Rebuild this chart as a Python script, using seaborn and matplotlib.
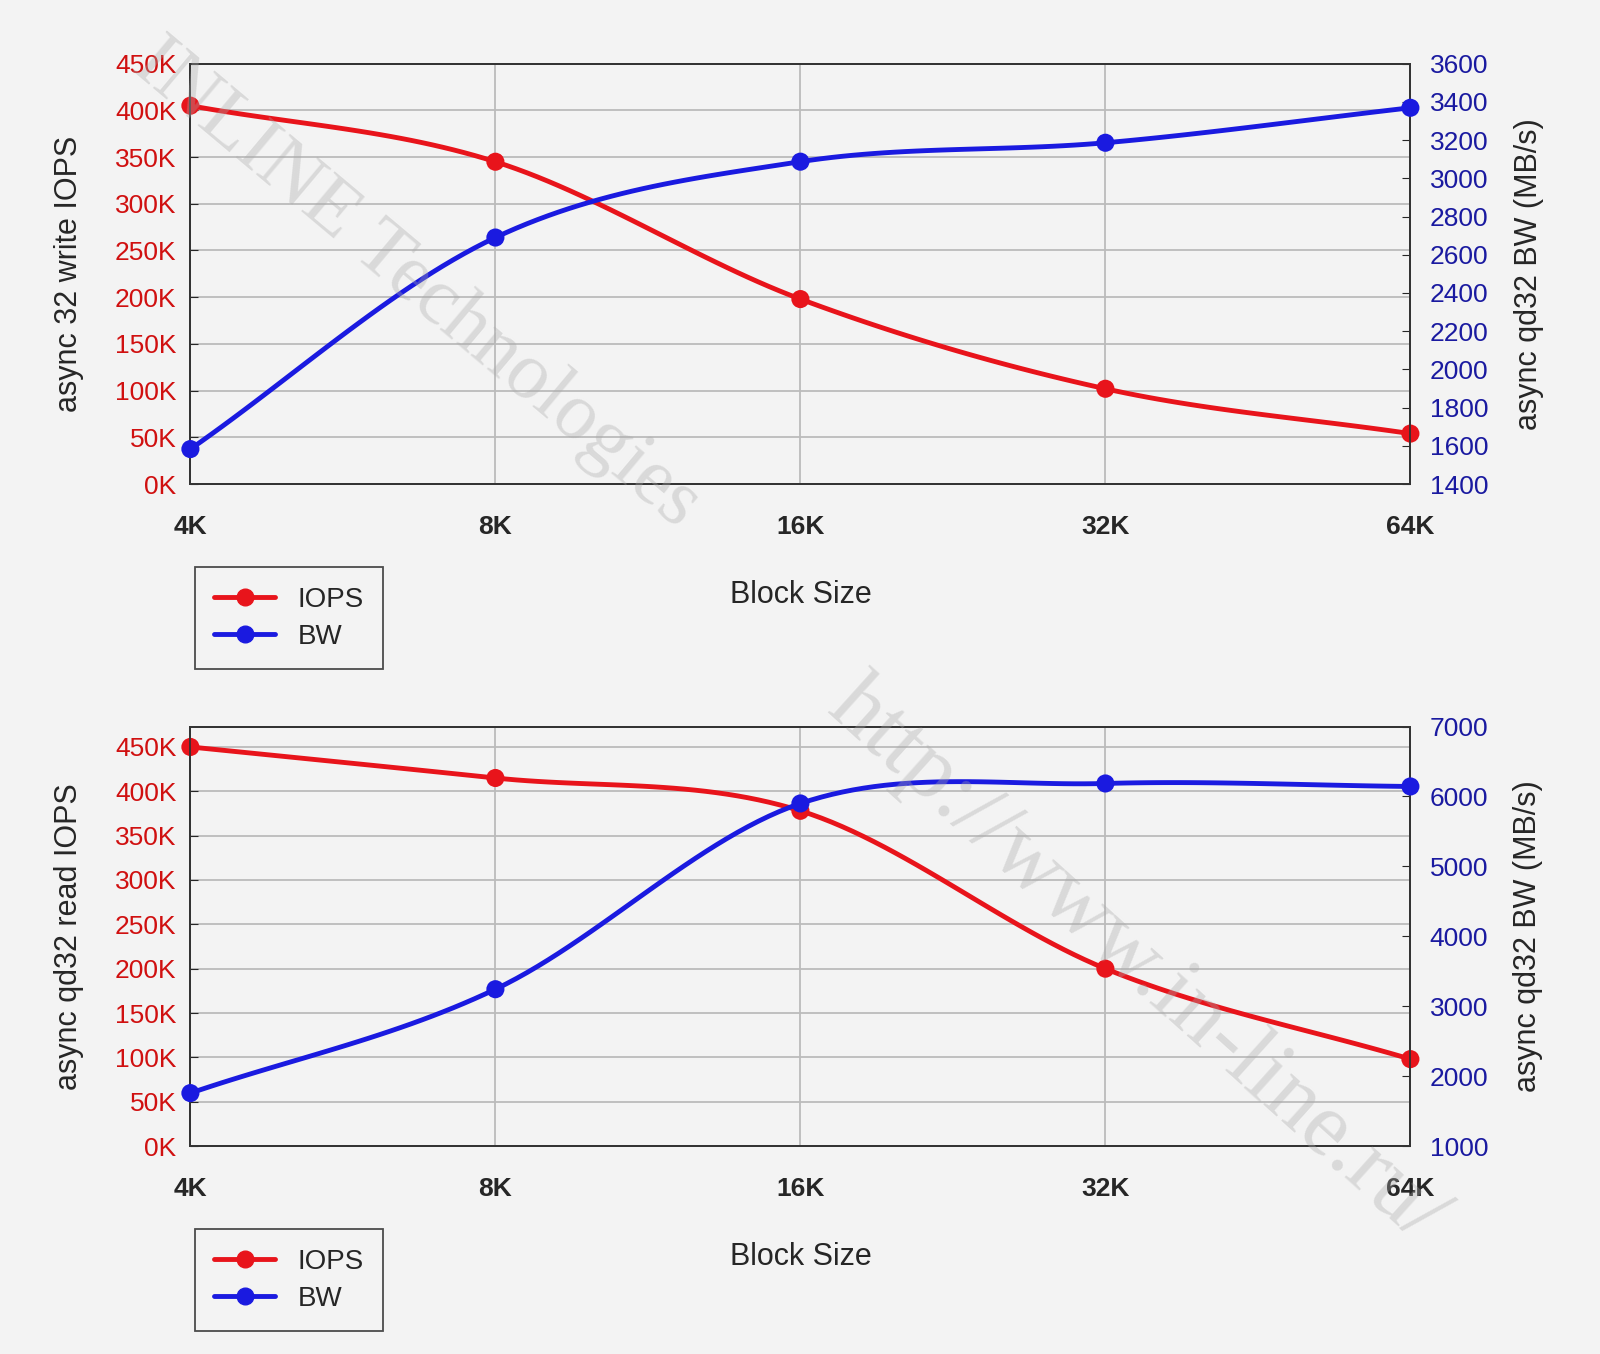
import numpy as np
import matplotlib
matplotlib.use("Agg")
import matplotlib.pyplot as plt
import seaborn as sns
from matplotlib.lines import Line2D

block_sizes = ["4K", "8K", "16K", "32K", "64K"]
write_iops = [405, 345, 198, 102, 54]          # thousands
write_bw = [1583, 2690, 3087, 3186, 3369]      # MB/s
read_iops = [450, 415, 378, 200, 98]
read_bw = [1757, 3243, 5900, 6186, 6143]

sns.set_style("white")
plt.rcParams['font.family'] = ['Liberation Sans', 'DejaVu Sans']
BG = "#f3f3f3"


def smooth(x, y, n=30):
    # Catmull-Rom curve through the points (rendering only)
    x = np.asarray(x, float); y = np.asarray(y, float)
    px = np.concatenate([[2 * x[0] - x[1]], x, [2 * x[-1] - x[-2]]])
    py = np.concatenate([[2 * y[0] - y[1]], y, [2 * y[-1] - y[-2]]])
    xs, ys = [], []
    t = np.linspace(0, 1, n)
    for i in range(1, len(px) - 2):
        for p, out in ((px, xs), (py, ys)):
            p0, p1, p2, p3 = p[i - 1:i + 3]
            out.extend(0.5 * (2 * p1 + (-p0 + p2) * t + (2 * p0 - 5 * p1 + 4 * p2 - p3) * t ** 2
                              + (-p0 + 3 * p1 - 3 * p2 + p3) * t ** 3))
    return np.array(xs), np.array(ys)


def panel(rect, iops, bw, ylab, iops_top, bw_lim, bw_step):
    ax = fig.add_axes(rect)
    ax.set_facecolor(BG)
    x = np.arange(len(block_sizes))
    ax2 = ax.twinx()
    sx, sy = smooth(x, iops)
    ax.plot(sx, sy, color="#e8141b", lw=3.5, zorder=3, clip_on=False)
    sns.scatterplot(x=x, y=iops, ax=ax, color="#e8141b", s=170, edgecolor="none", zorder=4, clip_on=False)
    sx, sy = smooth(x, bw)
    ax2.plot(sx, sy, color="#1a1ae0", lw=3.5, zorder=3, clip_on=False)
    sns.scatterplot(x=x, y=bw, ax=ax2, color="#1a1ae0", s=170, edgecolor="none", zorder=4, clip_on=False)
    ax.set_xlim(0, 4)
    ax.set_ylim(0, iops_top)
    ax.set_yticks(np.arange(0, 451, 50))
    ax.set_yticklabels([f"{v}K" for v in range(0, 451, 50)], color="#d01010", fontsize=19)
    ax.set_xticks(x)
    ax.set_xticklabels(block_sizes, fontsize=19, fontweight="bold")
    ax.grid(True, color="#bbbbbb", lw=1.3)
    ax.set_axisbelow(True)
    ax2.set_ylim(*bw_lim)
    ax2.set_yticks(np.arange(bw_lim[0], bw_lim[1] + 1, bw_step))
    ax2.tick_params(axis="y", labelcolor="#1a1aa0", labelsize=19, pad=14)
    ax.set_ylabel(ylab, fontsize=22, labelpad=22)
    ax2.set_ylabel("async qd32 BW (MB/s)", fontsize=22, labelpad=18)
    ax.set_xlabel("Block Size", fontsize=22, labelpad=30)
    for a in (ax, ax2):
        for s in a.spines.values():
            s.set_color("#333333"); s.set_linewidth(1.3)
    ax.tick_params(axis="x", length=6, direction="in", pad=22)
    ax.tick_params(axis="y", length=6, direction="in", pad=10)
    ax2.tick_params(axis="y", length=6, direction="in")
    handles = [Line2D([], [], color="#e8141b", lw=3.5, marker="o", ms=12),
               Line2D([], [], color="#1a1ae0", lw=3.5, marker="o", ms=12)]
    leg = ax.legend(handles, ["IOPS", "BW"], loc="upper left", bbox_to_anchor=(-0.008, -0.165),
                    fontsize=20, fancybox=False, edgecolor="#222222", facecolor=BG,
                    handlelength=2.2, borderpad=0.7, labelspacing=0.4)
    leg.get_frame().set_linewidth(1.3)
    return ax


fig = plt.figure(figsize=(16, 13.54), dpi=100)
fig.patch.set_facecolor(BG)
panel([0.119, 0.6425, 0.7625, 0.3105], write_iops, write_bw, "async 32 write IOPS", 450, (1400, 3600), 200)
panel([0.119, 0.1536, 0.7625, 0.3098], read_iops, read_bw, "async qd32 read IOPS", 473, (1000, 7000), 1000)

fig.text(0.26, 0.79, "INLINE Technologies", fontsize=58, rotation=-40, color="#aaaaaa",
         alpha=0.35, ha="center", va="center", family="Liberation Serif", zorder=0)
fig.text(0.71, 0.29, "http://www.in-line.ru/", fontsize=66, rotation=-42, color="#aaaaaa",
         alpha=0.35, ha="center", va="center", family="Liberation Serif", zorder=0)

fig.savefig("out.png", dpi=100, facecolor=BG)
